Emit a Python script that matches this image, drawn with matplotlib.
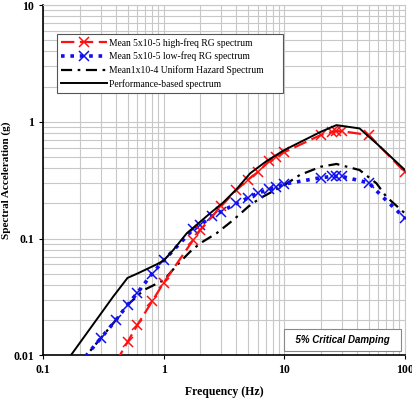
import matplotlib.pyplot as plt
import numpy as np

# Mean 5x10-5 high-freq RG spectrum
hf_freq = [0.4, 0.5, 0.6, 0.8, 1.0, 1.75, 2.0, 3.0, 4.0, 5.0, 6.0, 7.5, 8.5, 10, 20, 25, 27, 30, 50, 100]
hf_sa = [0.0087, 0.013, 0.018, 0.029, 0.042, 0.097, 0.118, 0.19, 0.26, 0.32, 0.37, 0.46, 0.50, 0.55,
         0.77, 0.82, 0.83, 0.83, 0.77, 0.37]

# Mean 5x10-5 low-freq RG spectrum
lf_freq = [0.2, 0.3, 0.4, 0.5, 0.6, 0.8, 1.0, 1.75, 2.0, 2.5, 3.0, 4.0, 5.0, 6.0, 7.5, 8.5, 10,
           20, 25, 27, 30, 50, 65, 85, 100]
lf_sa = [0.0085, 0.014, 0.020, 0.027, 0.034, 0.050, 0.065, 0.12, 0.13, 0.155, 0.17, 0.20, 0.223,
         0.244, 0.265, 0.275, 0.293, 0.332, 0.34, 0.34, 0.34, 0.30, 0.228, 0.175, 0.149]
lf_marks = [1, 2, 3, 4, 5, 6, 7, 8, 9, 10, 11, 12, 13, 14, 15, 16, 17, 18, 19, 20, 21, 24]

# Mean 1x10-4 uniform hazard spectrum
uhs_freq = [0.2, 0.3, 0.4, 0.5, 0.6, 0.675, 1.0, 1.28, 1.65, 2.0, 2.74, 3.76, 5.0, 6.26, 10,
            13.4, 20, 27, 42, 58, 70, 100]
uhs_sa = [0.0085, 0.014, 0.020, 0.027, 0.032, 0.036, 0.044, 0.059, 0.077, 0.091, 0.111, 0.144,
          0.187, 0.221, 0.287, 0.35, 0.412, 0.435, 0.386, 0.297, 0.228, 0.164]

# Performance-based spectrum
pb_freq = [0.15, 0.229, 0.38, 0.5, 0.6, 0.87, 1.0, 1.2, 1.55, 2.0, 2.41, 3.1, 4.0, 5.2, 7.1, 10,
           20, 27, 42, 58, 100]
pb_sa = [0.0084, 0.0154, 0.0318, 0.046, 0.050, 0.060, 0.065, 0.080, 0.111, 0.139, 0.164, 0.203,
         0.264, 0.362, 0.46, 0.573, 0.82, 0.936, 0.877, 0.653, 0.386]

serif = 'Liberation Serif'

fig = plt.figure(figsize=(4.12, 4.01), dpi=100)
ax = fig.add_axes([0.105, 0.114, 0.878, 0.8735])

ax.plot(hf_freq, hf_sa, color='#ff1010', lw=1.6, dashes=(6, 2.5), marker='x', ms=6.5, mew=1.1,
        label='Mean 5x10-5 high-freq RG spectrum', zorder=4)
ax.plot(lf_freq, lf_sa, color='#1010ee', lw=2.6, dashes=(1, 1.6), marker='x', ms=6.5, mew=1.1,
        markevery=lf_marks, label='Mean 5x10-5 low-freq RG spectrum', zorder=3)
ax.plot(uhs_freq, uhs_sa, color='black', lw=1.6, dashes=(5, 2.5, 1.2, 2.5),
        label='Mean1x10-4 Uniform Hazard Spectrum', zorder=2)
ax.plot(pb_freq, pb_sa, color='black', lw=1.4, label='Performance-based spectrum', zorder=5)

ax.set_xscale('log')
ax.set_yscale('log')
ax.set_xlim(0.1, 100)
ax.set_ylim(0.01, 10)

ax.grid(True, which='both', color='#c8c8c8', lw=0.8)
ax.set_axisbelow(True)
ax.minorticks_on()
ax.tick_params(which='minor', length=0)
ax.tick_params(which='major', length=3, direction='out')
ax.set_xticks([0.1, 1, 10, 100])
ax.set_xticklabels(['0.1', '1', '10', '100'])
ax.set_yticks([0.01, 0.1, 1, 10])
ax.set_yticklabels(['0.01', '0.1', '1', '10'])
for lab in ax.get_xticklabels() + ax.get_yticklabels():
    lab.set_fontfamily(serif)
    lab.set_fontweight('bold')
    lab.set_fontsize(8.5)

for s in ['top', 'right']:
    ax.spines[s].set_color('#c8c8c8')
for s in ['left', 'bottom']:
    ax.spines[s].set_color('black')
    ax.spines[s].set_linewidth(1.2)

ax.set_xlabel('Frequency (Hz)', fontfamily=serif, fontweight='bold', fontsize=8.5, labelpad=7)
fig.text(6 / 412, 0.55, 'Spectral Acceleration (g)', rotation=90, ha='center', va='center',
         fontfamily=serif, fontweight='bold', fontsize=8)

leg = ax.legend(loc='upper left', bbox_to_anchor=(0.039, 0.757, 0.624, 0.16), mode='expand',
                borderaxespad=0, prop={'family': serif, 'size': 6.9},
                fancybox=False, edgecolor='#555555', framealpha=1, handlelength=4.8,
                borderpad=0.4, labelspacing=0.42, handletextpad=0.2)
leg.get_frame().set_linewidth(0.8)

ax.text(0.973, 0.029, '  5% Critical Damping  ', transform=ax.transAxes, ha='right', va='bottom',
        fontfamily='Liberation Sans', fontweight='bold', fontstyle='italic', fontsize=7,
        bbox=dict(boxstyle='square,pad=0.6', fc='white', ec='#888888', lw=0.8), zorder=6)

fig.savefig('out.png', dpi=100)
